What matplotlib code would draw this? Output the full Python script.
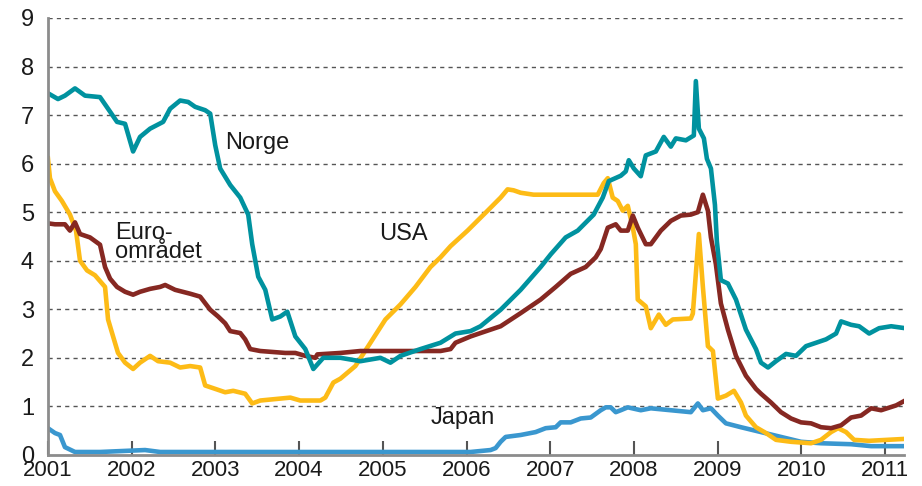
import numpy as np
import matplotlib.pyplot as plt

plt.rcParams['font.family'] = ['Liberation Sans', 'DejaVu Sans']

# Norge
norge_t = [2001.000, 2001.120, 2001.203, 2001.323, 2001.443, 2001.622, 2001.742, 2001.825,
           2001.921, 2002.017, 2002.100, 2002.220, 2002.376, 2002.459, 2002.579, 2002.675,
           2002.758, 2002.878, 2002.938, 2002.998, 2003.057, 2003.177, 2003.297, 2003.392,
           2003.440, 2003.512, 2003.596, 2003.679, 2003.775, 2003.859, 2003.955, 2004.074,
           2004.170, 2004.289, 2004.493, 2004.732, 2004.971, 2005.091, 2005.211, 2005.450,
           2005.689, 2005.868, 2006.048, 2006.167, 2006.407, 2006.646, 2006.885, 2007.005,
           2007.184, 2007.328, 2007.519, 2007.627, 2007.699, 2007.842, 2007.902, 2007.938,
           2007.998, 2008.081, 2008.141, 2008.261, 2008.356, 2008.440, 2008.500, 2008.620,
           2008.715, 2008.739, 2008.775, 2008.835, 2008.871, 2008.919, 2008.967, 2008.990,
           2009.038, 2009.122, 2009.218, 2009.337, 2009.457, 2009.517, 2009.601, 2009.696,
           2009.816, 2009.935, 2010.055, 2010.175, 2010.294, 2010.414, 2010.474, 2010.593,
           2010.689, 2010.809, 2010.928, 2011.072, 2011.239]
norge = [7.45, 7.33, 7.40, 7.55, 7.40, 7.37, 7.07, 6.86,
         6.82, 6.25, 6.55, 6.72, 6.86, 7.13, 7.30, 7.27,
         7.17, 7.10, 7.03, 6.38, 5.90, 5.56, 5.30, 4.95,
         4.34, 3.67, 3.40, 2.79, 2.85, 2.95, 2.44, 2.18,
         1.77, 2.00, 2.00, 1.93, 2.00, 1.90, 2.04, 2.18,
         2.31, 2.50, 2.55, 2.65, 2.99, 3.40, 3.87, 4.13,
         4.48, 4.62, 4.95, 5.30, 5.64, 5.75, 5.84, 6.07,
         5.90, 5.74, 6.17, 6.25, 6.55, 6.35, 6.52, 6.48,
         6.58, 7.70, 6.72, 6.52, 6.10, 5.90, 5.15, 4.40,
         3.60, 3.53, 3.20, 2.58, 2.18, 1.90, 1.80, 1.93,
         2.08, 2.04, 2.24, 2.31, 2.38, 2.50, 2.75, 2.68,
         2.65, 2.50, 2.61, 2.65, 2.61]

# USA
usa_t = [2001.000, 2001.024, 2001.084, 2001.167, 2001.263, 2001.335, 2001.383, 2001.467,
         2001.562, 2001.682, 2001.718, 2001.766, 2001.837, 2001.921, 2002.017, 2002.100,
         2002.220, 2002.316, 2002.459, 2002.579, 2002.699, 2002.818, 2002.878, 2002.998,
         2003.117, 2003.213, 2003.356, 2003.440, 2003.536, 2003.775, 2003.895, 2004.014,
         2004.254, 2004.313, 2004.409, 2004.493, 2004.672, 2004.852, 2005.031, 2005.211,
         2005.390, 2005.569, 2005.689, 2005.809, 2006.012, 2006.251, 2006.407, 2006.490,
         2006.562, 2006.646, 2006.801, 2007.567, 2007.639, 2007.687, 2007.746, 2007.806,
         2007.866, 2007.926, 2007.986, 2008.022, 2008.045, 2008.141, 2008.201, 2008.297,
         2008.380, 2008.464, 2008.679, 2008.703, 2008.775, 2008.823, 2008.883, 2008.943,
         2009.002, 2009.098, 2009.194, 2009.278, 2009.337, 2009.457, 2009.577, 2009.696,
         2009.876, 2010.115, 2010.234, 2010.354, 2010.438, 2010.533, 2010.629, 2010.809,
         2011.239]
usa = [6.11, 5.70, 5.43, 5.23, 4.95, 4.62, 4.00, 3.80,
       3.70, 3.46, 2.79, 2.51, 2.10, 1.90, 1.77, 1.90,
       2.04, 1.93, 1.90, 1.80, 1.83, 1.80, 1.43, 1.36,
       1.29, 1.32, 1.26, 1.06, 1.12, 1.16, 1.18, 1.12,
       1.12, 1.18, 1.49, 1.57, 1.83, 2.31, 2.79, 3.10,
       3.46, 3.87, 4.07, 4.30, 4.62, 5.03, 5.30, 5.47,
       5.45, 5.40, 5.36, 5.36, 5.60, 5.70, 5.30, 5.23,
       5.03, 5.13, 4.68, 4.34, 3.20, 3.06, 2.61, 2.89,
       2.68, 2.79, 2.81, 2.91, 4.55, 3.46, 2.24, 2.14,
       1.16, 1.22, 1.32, 1.08, 0.81, 0.57, 0.45, 0.31,
       0.27, 0.24, 0.31, 0.47, 0.55, 0.47, 0.31, 0.29,
       0.33]

# Euroområdet
euro_t = [2001.000, 2001.084, 2001.203, 2001.263, 2001.323, 2001.383, 2001.502, 2001.622,
          2001.682, 2001.742, 2001.825, 2001.921, 2002.017, 2002.100, 2002.220, 2002.340,
          2002.400, 2002.519, 2002.699, 2002.818, 2002.938, 2003.033, 2003.117, 2003.177,
          2003.297, 2003.356, 2003.416, 2003.536, 2003.835, 2003.955, 2004.074, 2004.194,
          2004.218, 2004.493, 2004.732, 2005.689, 2005.809, 2005.868, 2006.048, 2006.167,
          2006.407, 2006.646, 2006.885, 2007.065, 2007.244, 2007.423, 2007.543, 2007.603,
          2007.687, 2007.782, 2007.842, 2007.926, 2007.986, 2008.045, 2008.141, 2008.201,
          2008.321, 2008.440, 2008.560, 2008.679, 2008.763, 2008.823, 2008.883, 2008.919,
          2008.978, 2009.038, 2009.122, 2009.218, 2009.337, 2009.457, 2009.517, 2009.636,
          2009.756, 2009.876, 2009.995, 2010.115, 2010.234, 2010.354, 2010.474, 2010.593,
          2010.713, 2010.833, 2010.952, 2011.132, 2011.239]
euro = [4.77, 4.75, 4.75, 4.62, 4.79, 4.55, 4.48, 4.33,
        3.87, 3.63, 3.46, 3.36, 3.30, 3.36, 3.42, 3.46,
        3.50, 3.40, 3.32, 3.26, 2.99, 2.85, 2.71, 2.55,
        2.51, 2.38, 2.18, 2.14, 2.10, 2.10, 2.04, 2.00,
        2.07, 2.10, 2.14, 2.14, 2.18, 2.31, 2.44, 2.51,
        2.65, 2.92, 3.20, 3.46, 3.73, 3.87, 4.07, 4.24,
        4.68, 4.75, 4.62, 4.62, 4.93, 4.68, 4.34, 4.34,
        4.62, 4.82, 4.93, 4.95, 5.00, 5.36, 5.03, 4.48,
        3.93, 3.12, 2.58, 2.04, 1.63, 1.36, 1.26, 1.08,
        0.88, 0.75, 0.67, 0.65, 0.57, 0.55, 0.61, 0.77,
        0.81, 0.96, 0.92, 1.02, 1.12]

# Japan
japan_t = [2001.000, 2001.084, 2001.144, 2001.203, 2001.323, 2001.622, 2002.160, 2002.340,
           2006.048, 2006.287, 2006.347, 2006.407, 2006.467, 2006.646, 2006.825, 2006.945,
           2007.065, 2007.124, 2007.244, 2007.364, 2007.483, 2007.603, 2007.663, 2007.722,
           2007.782, 2007.842, 2007.926, 2008.081, 2008.201, 2008.440, 2008.679, 2008.763,
           2008.823, 2008.919, 2009.002, 2009.098, 2009.278, 2009.517, 2009.756, 2009.995,
           2010.234, 2010.593, 2010.833, 2011.239]
japan = [0.55, 0.45, 0.41, 0.16, 0.06, 0.06, 0.10, 0.06,
         0.06, 0.10, 0.14, 0.27, 0.37, 0.41, 0.47, 0.55,
         0.57, 0.67, 0.67, 0.75, 0.77, 0.92, 0.98, 0.98,
         0.88, 0.92, 0.98, 0.92, 0.96, 0.92, 0.88, 1.06,
         0.92, 0.96, 0.81, 0.65, 0.57, 0.47, 0.37, 0.27,
         0.24, 0.22, 0.18, 0.18]

years = list(range(2001, 2012))

fig = plt.figure(figsize=(9.22, 4.86), dpi=100)
ax = fig.add_axes([0.052, 0.064, 0.928, 0.899])

ax.plot(japan_t, japan, color='#3a97cf', lw=3.3)
ax.plot(usa_t, usa, color='#fdbb16', lw=3.3)
ax.plot(euro_t, euro, color='#862822', lw=3.3)
ax.plot(norge_t, norge, color='#00929f', lw=3.3)

ax.set_xlim(2001, 2011.22)
ax.set_ylim(0, 9)
ax.set_yticks(range(0, 10))
ax.set_xticks(years)
ax.set_xticklabels([str(y) for y in years])

for v in range(1, 10):
    ax.axhline(v, color='#555555', lw=1, ls=(0, (3, 3)), zorder=0)

for s in ['top', 'right']:
    ax.spines[s].set_visible(False)
for s in ['left', 'bottom']:
    ax.spines[s].set_color('#8c8c8c')
    ax.spines[s].set_linewidth(2)

ax.tick_params(axis='x', direction='in', length=10, width=1.5, color='#555555',
               labelsize=16, pad=4, labelcolor='#1a1a1a')
ax.tick_params(axis='y', length=0, labelsize=17, pad=10, labelcolor='#1a1a1a')

tc = '#1a1a1a'
ax.text(2003.12, 6.42, 'Norge', fontsize=17, color=tc, va='center')
ax.text(2004.95, 4.54, 'USA', fontsize=17, color=tc, va='center')
ax.text(2001.8, 4.37, 'Euro-\nområdet', fontsize=17, color=tc, va='center', linespacing=0.85)
ax.text(2005.57, 0.75, 'Japan', fontsize=17, color=tc, va='center')

fig.savefig('out.png', dpi=100)
